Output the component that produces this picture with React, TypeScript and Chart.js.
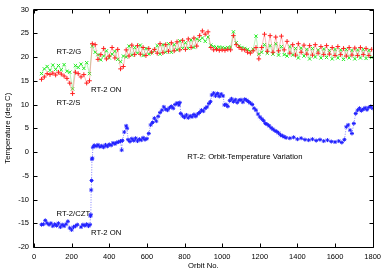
import React, { useEffect, useRef } from "react";
import { Chart, registerables } from "chart.js";

Chart.register(...registerables);

// ---- data ----
const orbitsSG = [
  40, 55, 70, 85, 100, 115, 130, 145, 160, 175, 190, 205, 220, 235, 250, 265, 280, 295, 310, 325,
  340, 355, 370, 385, 400, 415, 430, 445, 460, 475, 490, 505, 520, 535, 550, 565, 580, 595, 610, 625,
  640, 655, 670, 685, 700, 715, 730, 745, 760, 775, 790, 805, 820, 835, 850, 865, 880, 895, 910, 925,
  940, 955, 970, 985, 1000, 1015, 1030, 1045, 1060, 1075, 1090, 1105, 1120, 1135, 1150, 1165, 1180, 1195, 1210, 1225,
  1240, 1255, 1270, 1285, 1300, 1315, 1330, 1345, 1360, 1375, 1390, 1405, 1420, 1435, 1450, 1465, 1480, 1495, 1510, 1525,
  1540, 1555, 1570, 1585, 1600, 1615, 1630, 1645, 1660, 1675, 1690, 1705, 1720, 1735, 1750, 1765, 1780, 1795,
];

const tempS = [
  15.3, 15.8, 16.5, 16.3, 16.6, 16.2, 16.8, 16.4, 16.0, 15.5, 14.5, 12.3, 16.8, 16.5, 15.8, 16.3, 14.5, 15.0, 22.8, 22.6,
  19.5, 20.5, 21.8, 19.6, 20.2, 22.0, 19.8, 21.6, 17.5, 18.0, 21.5, 20.2, 22.5, 20.5, 22.4, 20.6, 22.0, 20.3, 21.8, 21.0,
  21.6, 20.8, 22.8, 20.9, 22.6, 21.2, 23.0, 21.3, 23.2, 21.5, 23.5, 21.6, 23.8, 22.0, 24.0, 22.3, 24.5, 25.5, 24.8, 25.3,
  22.0, 21.5, 21.6, 21.4, 21.5, 21.4, 21.6, 21.5, 24.5, 22.6, 22.0, 21.6, 21.5, 21.0, 20.8, 21.3, 22.0, 19.6, 22.0, 24.8,
  21.2, 24.5, 21.0, 24.2, 21.3, 24.4, 21.5, 23.3, 20.8, 22.6, 20.4, 22.8, 21.0, 22.5, 20.6, 22.4, 20.4, 22.6, 20.8, 22.2,
  20.5, 22.4, 20.6, 22.0, 20.3, 22.2, 20.5, 21.8, 20.2, 22.0, 20.4, 21.9, 20.3, 22.0, 20.5, 21.8, 20.3, 21.6,
];

const tempG = [
  16.5, 17.5, 18.0, 17.2, 18.3, 17.4, 18.2, 17.3, 18.4, 17.0, 16.8, 13.3, 18.2, 17.8, 18.5, 17.6, 18.8, 16.5, 22.3, 21.0,
  20.5, 19.4, 20.2, 21.3, 19.8, 20.6, 21.2, 19.5, 19.0, 20.2, 20.0, 22.3, 20.4, 22.0, 20.8, 22.5, 20.3, 21.8, 20.6, 20.9,
  21.4, 22.4, 20.6, 22.6, 21.0, 22.8, 21.0, 22.6, 21.5, 23.4, 21.8, 23.0, 21.8, 23.6, 22.0, 23.8, 23.5, 24.0, 23.3, 24.2,
  22.5, 22.2, 22.0, 22.1, 22.0, 21.9, 22.0, 22.1, 25.3, 23.0, 22.3, 22.0, 21.8, 21.6, 21.2, 21.6, 24.4, 20.6, 21.0, 22.6,
  20.8, 22.4, 20.6, 22.8, 20.4, 22.2, 20.5, 20.2, 22.2, 20.4, 21.8, 19.8, 21.9, 20.2, 21.6, 19.6, 21.8, 20.0, 21.5, 19.8,
  21.7, 19.9, 21.4, 19.6, 21.6, 19.8, 21.5, 19.5, 21.6, 19.8, 21.4, 19.6, 21.5, 19.8, 21.6, 19.7, 21.4, 19.9,
];

const orbitsCZT = [
  40, 50, 60, 70, 80, 90, 100, 110, 120, 130, 140, 150, 160, 170, 180, 190, 200, 210, 220, 230,
  250, 260, 270, 280, 290, 298, 300, 302, 304, 306, 308, 310, 313, 320, 330, 340, 350, 360, 370, 380,
  390, 400, 410, 420, 430, 440, 450, 460, 466, 470, 480, 490, 495, 500, 510, 520, 530, 540, 550, 560,
  570, 580, 590, 600, 610, 620, 630, 640, 650, 660, 670, 680, 690, 700, 710, 720, 730, 740, 750, 760,
  770, 775, 780, 790, 800, 810, 820, 830, 840, 850, 860, 870, 880, 890, 900, 910, 920, 930, 938, 945,
  955, 965, 975, 985, 995, 1005, 1012, 1020, 1030, 1040, 1050, 1060, 1070, 1080, 1090, 1100, 1110, 1120, 1130, 1140,
  1150, 1160, 1170, 1180, 1190, 1200, 1210, 1220, 1230, 1240, 1250, 1260, 1270, 1280, 1290, 1300, 1310, 1320, 1330, 1340,
  1360, 1380, 1400, 1420, 1440, 1460, 1480, 1500, 1520, 1540, 1560, 1580, 1600, 1620, 1636, 1650, 1660, 1670, 1680, 1690,
  1700, 1710, 1720, 1730, 1740, 1750, 1760, 1770, 1780, 1790, 1800,
];

const tempCZT = [
  -15.3, -15.2, -14.4, -15.0, -15.3, -15.0, -15.6, -15.2, -15.5, -15.0, -15.8, -15.3, -15.6, -15.2, -14.6, -16.0, -16.4, -15.8, -15.6, -15.3,
  -15.8, -15.3, -15.5, -15.2, -15.6, -15.3, -13.5, -13.2, -8.0, -6.0, -1.5, -1.3, 1.0, 1.4, 1.2, 1.5, 1.1, 1.3, 1.0, 1.5,
  1.2, 1.6, 1.4, 1.9, 1.7, 2.0, 2.1, 2.3, 0.4, 2.4, 4.2, 5.5, 5.0, 2.6, 2.2, 2.8, 2.4, 2.9, 2.3, 2.7,
  2.5, 3.0, 2.6, 2.8, 3.9, 5.7, 6.2, 7.1, 6.5, 7.5, 8.3, 8.8, 9.5, 9.0, 8.8, 9.3, 9.6, 9.2, 10.0, 10.3,
  9.9, 10.4, 8.1, 7.6, 7.3, 7.8, 7.2, 7.6, 7.4, 7.9, 7.5, 8.0, 8.3, 8.8, 8.6, 9.2, 9.5, 10.2, 10.6, 12.0,
  12.4, 11.8, 12.3, 11.7, 12.2, 11.8, 9.9, 10.0, 9.6, 10.8, 11.2, 10.6, 11.0, 10.4, 10.9, 11.0, 10.5, 11.1, 10.9, 10.6,
  10.3, 10.0, 9.2, 8.8, 8.0, 7.4, 7.0, 6.6, 6.0, 5.8, 5.5, 5.1, 4.8, 4.5, 4.3, 4.0, 3.6, 3.4, 3.2, 3.0,
  2.9, 3.1, 2.7, 2.9, 2.6, 2.5, 2.7, 2.4, 2.6, 2.3, 2.5, 2.2, 2.1, 2.3, 2.0, 2.6, 5.3, 5.7, 4.6, 3.9,
  6.0, 8.1, 8.8, 9.2, 8.7, 9.0, 9.3, 8.9, 9.4, 9.6, 9.2,
];

const xTicks = [0, 200, 400, 600, 800, 1000, 1200, 1400, 1600, 1800];
const yTicks = [-20, -15, -10, -5, 0, 5, 10, 15, 20, 25, 30];

const xTitle = "Orbit No.";
const yTitle = "Temperature (deg C)";

// label text with its anchor in data coordinates (orbit, deg C)
const labelTexts = ["RT-2/G", "RT-2/S", "RT-2 ON", "RT-2/CZT", "RT-2 ON", "RT-2: Orbit-Temperature Variation"];
const labelOrbits = [120, 120, 303, 120, 303, 815];
const labelTemps = [21, 10.3, 13, -13, -17, -1];

const FONT = '"Liberation Sans", Arial, sans-serif';

const framePlugin = {
  id: "frameAndText",
  afterDraw(chart: any) {
    const { ctx, chartArea: a, scales } = chart;
    const xs = scales.x;
    const ys = scales.y;
    ctx.save();
    ctx.strokeStyle = "#000";
    ctx.lineWidth = 1;
    const l = Math.round(a.left) - 0.5;
    const r = Math.round(a.right) + 0.5;
    const t = Math.round(a.top) - 0.5;
    const b = Math.round(a.bottom) + 0.5;
    ctx.beginPath();
    ctx.rect(l, t, r - l, b - t);
    const L = 4;
    xTicks.forEach((v) => {
      const px = Math.round(xs.getPixelForValue(v)) + 0.5;
      ctx.moveTo(px, b);
      ctx.lineTo(px, b - L);
      ctx.moveTo(px, t);
      ctx.lineTo(px, t + L);
    });
    yTicks.forEach((v) => {
      const py = Math.round(ys.getPixelForValue(v)) + 0.5;
      ctx.moveTo(l, py);
      ctx.lineTo(l + L, py);
      ctx.moveTo(r, py);
      ctx.lineTo(r - L, py);
    });
    ctx.stroke();

    ctx.fillStyle = "#000";
    ctx.font = `7.7px ${FONT}`;
    ctx.textAlign = "left";
    ctx.textBaseline = "middle";
    labelTexts.forEach((s, i) => {
      ctx.fillText(s, xs.getPixelForValue(labelOrbits[i]), ys.getPixelForValue(labelTemps[i]));
    });

    ctx.textAlign = "center";
    ctx.fillText(xTitle, (a.left + a.right) / 2, 266);
    ctx.save();
    ctx.translate(8, (a.top + a.bottom) / 2);
    ctx.rotate(-Math.PI / 2);
    ctx.fillText(yTitle, 0, 0);
    ctx.restore();
    ctx.restore();
  },
};

export default function App() {
  const ref = useRef<HTMLCanvasElement | null>(null);
  useEffect(() => {
    if (!ref.current) return;
    const mk = (xv: number[], yv: number[]) => xv.map((x, i) => ({ x, y: yv[i] }));
    const chart = new Chart(ref.current, {
      type: "line",
      data: {
        datasets: [
          {
            label: "RT-2/S",
            data: mk(orbitsSG, tempS),
            borderColor: "rgba(255,120,120,0.75)",
            borderWidth: 0.7,
            pointStyle: "cross",
            pointRadius: 2.3,
            pointBorderColor: "#ff2020",
            pointBorderWidth: 1,
            pointBackgroundColor: "transparent",
          },
          {
            label: "RT-2/G",
            data: mk(orbitsSG, tempG),
            borderColor: "rgba(120,230,120,0.75)",
            borderWidth: 0.7,
            pointStyle: "crossRot",
            pointRadius: 2.3,
            pointBorderColor: "#22ee22",
            pointBorderWidth: 1,
            pointBackgroundColor: "transparent",
          },
          {
            label: "RT-2/CZT",
            data: mk(orbitsCZT, tempCZT),
            borderColor: "rgba(60,60,255,0.8)",
            borderWidth: 0.8,
            borderDash: [1, 1.5],
            pointStyle: "star",
            pointRadius: 2,
            pointBorderColor: "#2020ff",
            pointBorderWidth: 1,
            pointBackgroundColor: "transparent",
          },
        ],
      },
      options: {
        animation: false,
        responsive: false,
        devicePixelRatio: 1,
        layout: { padding: { left: 0, right: 8, top: 9, bottom: 0 } },
        plugins: { legend: { display: false }, tooltip: { enabled: false } },
        elements: { line: { tension: 0 } },
        scales: {
          x: {
            type: "linear",
            min: 0,
            max: 1800,
            afterFit: (s: any) => {
              s.height = 23;
            },
            afterBuildTicks: (s: any) => {
              s.ticks = xTicks.map((v) => ({ value: v }));
            },
            grid: { display: false, drawTicks: false },
            border: { display: false },
            ticks: {
              color: "#000",
              font: { family: FONT, size: 7.5 },
              padding: 5,
              maxRotation: 0,
              callback: (v: any) => String(v),
            },
          },
          y: {
            type: "linear",
            min: -20,
            max: 30,
            afterFit: (s: any) => {
              s.width = 34;
            },
            afterBuildTicks: (s: any) => {
              s.ticks = yTicks.map((v) => ({ value: v }));
            },
            grid: { display: false, drawTicks: false },
            border: { display: false },
            ticks: { color: "#000", font: { family: FONT, size: 7.5 }, padding: 5, callback: (v: any) => String(v) },
          },
        },
      },
      plugins: [framePlugin],
    });
    return () => chart.destroy();
  }, []);
  return (
    <div style={{ position: "fixed", left: 0, top: 0, width: 386, height: 270, background: "#fff" }}>
      <canvas ref={ref} width={386} height={270} style={{ width: 386, height: 270, display: "block" }} />
    </div>
  );
}
